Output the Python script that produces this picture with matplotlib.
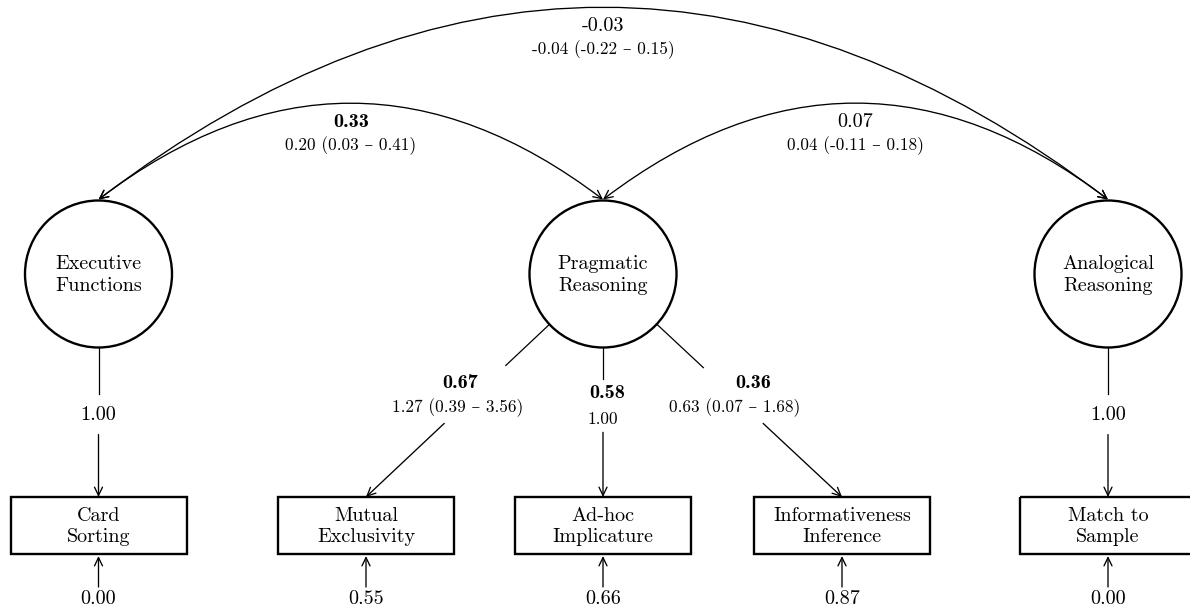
import numpy as np
import matplotlib.pyplot as plt
from matplotlib.patches import Circle, Rectangle, FancyArrowPatch

plt.rcParams['font.family'] = ['cmr10', 'DejaVu Serif']
plt.rcParams['axes.unicode_minus'] = False

# latent factors
factors = ['Executive\nFunctions', 'Pragmatic\nReasoning', 'Analogical\nReasoning']

# observed measures and the factor each one loads on
measures = ['Card\nSorting', 'Mutual\nExclusivity', 'Ad-hoc\nImplicature',
            'Informativeness\nInference', 'Match to\nSample']
measure_factor = [0, 1, 1, 1, 2]

# standardized loadings, unstandardized estimates (95% CI), significance
loadings = [1.00, 0.67, 0.58, 0.36, 1.00]
loadings_raw = ['', '1.27 (0.39 – 3.56)', '1.00', '0.63 (0.07 – 1.68)', '']
loadings_sig = [False, True, True, True, False]

# residual variances of the measures
residuals = [0.00, 0.55, 0.66, 0.87, 0.00]

# factor covariances
cov_pairs = [(0, 1), (1, 2), (0, 2)]
cov_std = [0.33, 0.07, -0.03]
cov_raw = ['0.20 (0.03 – 0.41)', '0.04 (-0.11 – 0.18)', '-0.04 (-0.22 – 0.15)']
cov_sig = [True, False, False]

# layout (pixel units, y pointing down)
fx = [98.5, 603, 1108]
fy = 274
R = 73.5
mx = [98.5, 366, 603, 842, 1108]
box_w, box_top, box_bot = 176, 497, 554
gap_a = [0.54, 0.41, 0.47, 0.42, 0.54]
gap_b = [0.72, 0.67, 0.71, 0.67, 0.72]
lab_std = [(98.5, 420.5), (460, 387.5), (607, 398), (753, 387.5), (1108, 420.5)]
lab_raw = [None, (458, 412.5), (603, 423.5), (735, 412.5), None]
rad = 0.38

BIG = 14.5
SMALL = 12.4
REG = ['cmr10', 'DejaVu Serif']
BOLD = ['cmb10', 'DejaVu Serif']

fig = plt.figure(figsize=(11.9, 6.1), dpi=100)
ax = fig.add_axes([0, 0, 1, 1])
ax.set_xlim(0, 1190)
ax.set_ylim(610, 0)
ax.axis('off')


def arrow(p, q, style='->', cs='arc3,rad=0'):
    a = FancyArrowPatch(p, q, arrowstyle=style + ',head_length=0.5,head_width=0.24',
                        connectionstyle=cs, mutation_scale=12, lw=0.95,
                        color='black', shrinkA=0, shrinkB=0)
    ax.add_patch(a)


# factors
for x, name in zip(fx, factors):
    ax.add_patch(Circle((x, fy), R, fill=False, lw=1.7, ec='black'))
    ax.text(x, fy + 1, name, ha='center', va='center', fontsize=BIG,
            family=REG, linespacing=1.25)

# measures, loadings and residuals
for i, name in enumerate(measures):
    f = measure_factor[i]
    x = mx[i]
    ax.add_patch(Rectangle((x - box_w / 2, box_top), box_w, box_bot - box_top,
                           fill=False, lw=1.7, ec='black'))
    ax.text(x, (box_top + box_bot) / 2 + 1, name, ha='center', va='center',
            fontsize=BIG, family=REG, linespacing=1.25)

    p0 = np.array([fx[f], fy])
    p1 = np.array([x, box_top])
    d = p1 - p0
    u = d / np.hypot(*d)
    start = p0 + u * R
    ax.plot([start[0], p0[0] + d[0] * gap_a[i]], [start[1], p0[1] + d[1] * gap_a[i]],
            color='black', lw=0.9)
    arrow(tuple(p0 + d * gap_b[i]), tuple(p1))

    ax.text(*lab_std[i], f'{loadings[i]:.2f}', ha='center', va='baseline',
            fontsize=BIG, family=BOLD if loadings_sig[i] else REG)
    if lab_raw[i] is not None:
        ax.text(*lab_raw[i], loadings_raw[i], ha='center', va='baseline',
                fontsize=SMALL, family=REG)

    arrow((x, 587), (x, box_bot + 2))
    ax.text(x, 604.5, f'{residuals[i]:.2f}', ha='center', va='baseline',
            fontsize=BIG, family=REG)

# covariances between factors
for (a, b), s, raw, sig in zip(cov_pairs, cov_std, cov_raw, cov_sig):
    ya = fy - R - 1
    arrow((fx[a], ya), (fx[b], ya), style='<->', cs=f'arc3,rad={-rad}')
    peak = ya - 0.5 * rad * (fx[b] - fx[a])
    xm = (fx[a] + fx[b]) / 2
    ax.text(xm, peak + 23, f'{s:.2f}', ha='center', va='baseline',
            fontsize=BIG, family=BOLD if sig else REG)
    ax.text(xm, peak + 46.5, raw, ha='center', va='baseline',
            fontsize=SMALL, family=REG)

plt.savefig('out.png', dpi=100)
